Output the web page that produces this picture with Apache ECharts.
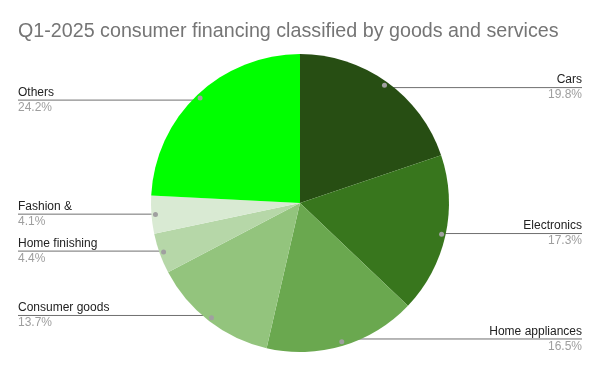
<!DOCTYPE html>
<html>
<head>
<meta charset="utf-8">
<script src="https://cdn.jsdelivr.net/npm/echarts@6/dist/echarts.min.js"></script>
<style>
html,body{margin:0;padding:0;background:#fff;}
#chart{width:600px;height:371px;}
</style>
</head>
<body>
<div id="chart"></div>
<script>
const titleText = 'Q1-2025 consumer financing classified by goods and services';
const categories = ['Cars', 'Electronics', 'Home appliances', 'Consumer goods', 'Home finishing', 'Fashion &', 'Others'];
const values = [19.8, 17.3, 16.5, 13.7, 4.4, 4.1, 24.2];
const colors = ['#274e13', '#38761d', '#6aa84f', '#93c47d', '#b6d7a8', '#d9ead3', '#00ff00'];

const CX = 300, CY = 203, R = 149, DOT_R = 142;
const chart = echarts.init(document.getElementById('chart'), null, {renderer: 'canvas'});
const FONT = '"Liberation Sans", Arial, sans-serif';

const pieData = categories.map((c, i) => ({name: c, value: values[i], itemStyle: {color: colors[i]}}));
const dotData = categories.map((c, i) => ({name: c, value: values[i]}));

chart.setOption({
  animation: false,
  backgroundColor: '#ffffff',
  title: {
    text: titleText,
    left: 13,
    top: 17,
    textStyle: {fontFamily: FONT, fontSize: 19.7, fontWeight: 'normal', color: '#757575'}
  },
  series: [
    {
      type: 'pie',
      center: [CX, CY],
      radius: [0, R],
      startAngle: 90,
      clockwise: true,
      avoidLabelOverlap: false,
      silent: true,
      data: pieData,
      itemStyle: {borderWidth: 0},
      label: {
        show: true,
        position: 'outer',
        alignTo: 'edge',
        edgeDistance: 18,
        formatter: function (p) { return '{n|' + p.name + '}\n{p|' + p.value + '%}'; },
        lineHeight: 15,
        rich: {
          n: {fontFamily: FONT, fontSize: 12, color: '#222222', lineHeight: 15},
          p: {fontFamily: FONT, fontSize: 12, color: '#9e9e9e', lineHeight: 15}
        }
      },
      labelLine: {
        show: true,
        length: 10,
        length2: 10,
        smooth: false,
        lineStyle: {color: '#707070', width: 1}
      },
      labelLayout: function (params) {
        const pts = params.labelLinePoints;
        if (!pts) return {};
        const dx = pts[0][0] - CX, dy = pts[0][1] - CY;
        const len = Math.hypot(dx, dy) || 1;
        const dot = [CX + dx / len * DOT_R, CY + dy / len * DOT_R];
        const isLeft = params.labelRect.x + params.labelRect.width / 2 < chart.getWidth() / 2;
        const farX = isLeft ? params.labelRect.x : params.labelRect.x + params.labelRect.width;
        return {
          y: dot[1],
          verticalAlign: 'middle',
          labelLinePoints: [dot, dot, [farX, dot[1]]]
        };
      }
    },
    {
      type: 'pie',
      center: [CX, CY],
      radius: [DOT_R - 6, DOT_R + 6],
      startAngle: 90,
      clockwise: true,
      silent: true,
      z: 5,
      data: dotData,
      itemStyle: {color: 'rgba(0,0,0,0)', borderWidth: 0},
      emphasis: {disabled: true},
      label: {
        show: true,
        position: 'inside',
        formatter: '{d|}',
        rich: {d: {width: 5, height: 5, borderRadius: 3, backgroundColor: '#a0a0a0'}}
      },
      labelLine: {show: false}
    }
  ]
});
</script>
</body>
</html>
